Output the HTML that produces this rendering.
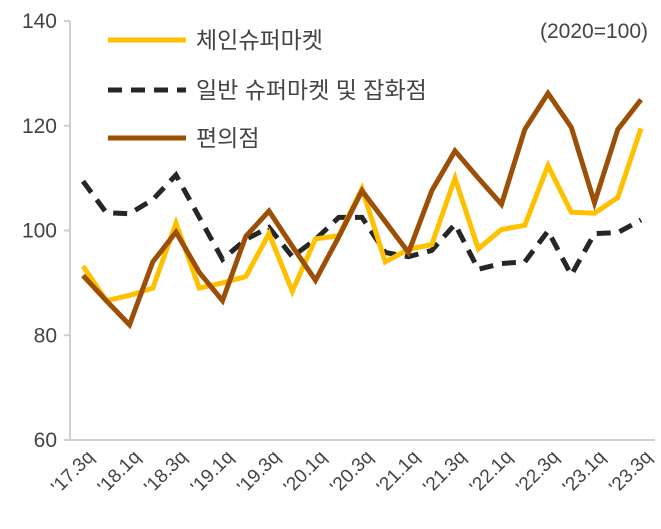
<!DOCTYPE html>
<html><head><meta charset="utf-8"><style>
body{margin:0;background:#fff}
svg text{font-family:"Liberation Sans","Noto Sans CJK KR",sans-serif;fill:#444}
</style></head><body>
<svg id="c" width="661" height="524"></svg>
<script>
const categories=["'17.3q","'17.4q","'18.1q","'18.2q","'18.3q","'18.4q","'19.1q","'19.2q","'19.3q","'19.4q","'20.1q","'20.2q","'20.3q","'20.4q","'21.1q","'21.2q","'21.3q","'21.4q","'22.1q","'22.2q","'22.3q","'22.4q","'23.1q","'23.2q","'23.3q"];
const chainValues=[93.2,86.6,87.6,89,101.4,89,90,91.2,99.4,88.4,98.4,99,108,94,96.4,97.3,110,96.5,100.2,101,112.4,103.5,103.3,106.3,119.5];
const generalValues=[109.4,103.4,103.2,105.9,110.6,102.5,94.5,98.3,100.6,95,98.3,102.5,102.5,95.8,95,96.2,101.2,92.6,93.7,94,99.9,91.5,99.4,99.6,102];
const convValues=[91.4,86.6,82,94,99.7,92,86.6,98.9,103.7,97,90.5,98.8,107.6,101.7,95.8,107.6,115.2,110,105,119.3,126.2,119.7,105.3,119.3,125];
const yTicks=[60,80,100,120,140];
const seriesNames=["체인슈퍼마켓","일반 슈퍼마켓 및 잡화점","편의점"];
const svg=document.getElementById('c');const NS="http://www.w3.org/2000/svg";
function mk(t,a,p){const e=document.createElementNS(NS,t);for(const k in a)e.setAttribute(k,a[k]);(p||svg).appendChild(e);return e;}
const x=i=>83+i*(641-83)/(categories.length-1);
const y=v=>440-(v-60)*(419/80);
let e;
e=mk('line',{x1:70,y1:21,x2:70,y2:440,stroke:'#d0d0d0','stroke-width':2});


e=mk('line',{x1:64,y1:440,x2:655,y2:440,stroke:'#d0d0d0','stroke-width':2});


yTicks.forEach(t=>{
 e=mk('line',{x1:64,y1:y(t),x2:70,y2:y(t),stroke:'#d0d0d0','stroke-width':2});
 
 
 e=mk('text',{x:57,y:y(t)+7,'text-anchor':'end','font-size':21});e.textContent=t;
 
 
});
categories.forEach((c,i)=>{if(i%2)return;
 e=mk('text',{x:0,y:0,'text-anchor':'end','font-size':19,transform:`translate(${x(i)+12},${458}) rotate(-45)`});e.textContent=c;
 
 
});
function line(vals,color,dash,name){
 const d=vals.map((v,i)=>(i?'L':'M')+x(i).toFixed(1)+' '+y(v).toFixed(1)).join(' ');
 const a={d:d,fill:'none',stroke:color,'stroke-width':5,'stroke-linejoin':'miter'};
 if(dash)a['stroke-dasharray']=dash;
 e=mk('path',a);
 
 
}
line(generalValues,'#262626','14 9','general-supermarket-line');
line(chainValues,'#ffc000',null,'chain-supermarket-line');
line(convValues,'#9c4f06',null,'convenience-store-line');
const leg=[['#ffc000',null,40],['#262626','14 9',90],['#9c4f06',null,138]];
leg.forEach((l,i)=>{
 const a={x1:108,y1:l[2],x2:186,y2:l[2],stroke:l[0],'stroke-width':5};if(l[1])a['stroke-dasharray']=l[1];
 e=mk('line',a);
 
 
 e=mk('text',{x:196,y:l[2]+8,'font-size':23});e.textContent=seriesNames[i];
 
 
});
e=mk('text',{x:648,y:38,'text-anchor':'end','font-size':21});e.textContent='(2020=100)';


</script>
</body></html>
